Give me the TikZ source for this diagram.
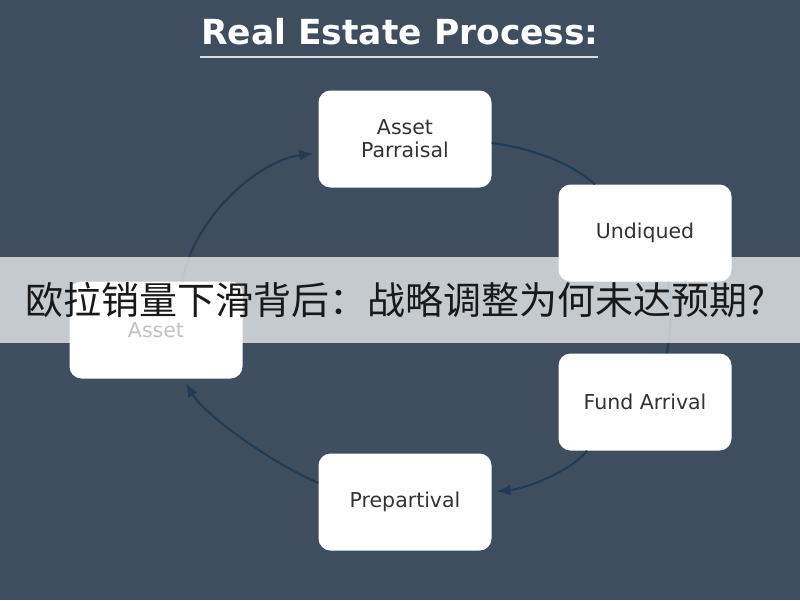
\documentclass[tikz,border=0pt]{standalone}
\usepackage{fontspec}
\setmainfont{DejaVu Sans}
\newfontfamily\cjkfont{Noto Sans CJK SC}
\usetikzlibrary{arrows.meta, calc}

\definecolor{slate}{HTML}{3E4E5F}
\definecolor{cycleblue}{HTML}{1F3B56}
\definecolor{boxtext}{HTML}{333333}

\begin{document}
\begin{tikzpicture}[x=1pt, y=-1pt,
every node/.style = {shape=rectangle, align=center},
stage/.style = {fill=white, rounded corners=12pt, minimum width=173pt, minimum height=97pt,
  text=boxtext, font=\fontsize{20.5}{23}\selectfont},
cycleline/.style = {draw=cycleblue, line width=2pt},
cyclearrow/.style = {cycleline, -{Latex[length=14pt,width=11pt]}, shorten >=5pt}]
%
\fill[slate] (0,0) rectangle (800,600);
\useasboundingbox (0,0) rectangle (800,600);

\node[text=white, font=\bfseries\fontsize{34.5}{34.5}\selectfont, anchor=base] (title) at (400,44) {Real Estate Process:};
\draw[white!80!slate, line width=2pt] (200,57) -- (598,57);

\node[stage] (appraisal) at (405,139) {Asset\\Parraisal};
\node[stage] (undiqued) at (645,233) {Undiqued};
\node[stage] (fund) at (645,402) {Fund Arrival};
\node[stage] (prep) at (405,502) {Prepartival};
\node[stage] (asset) at (156,330) {Asset};

\draw[cyclearrow] ($(asset.north)+(26,0)$) .. controls (195,215) and (260,160) .. ($(appraisal.west)+(0,14)$);
\draw[cycleline] ($(appraisal.east)+(0,4)$) .. controls (530,148) and (570,162) .. ($(undiqued.north)+(-50,0)$);
\draw[cycleline] ($(undiqued.south)+(23,0)$) .. controls (673,305) and (670,335) .. ($(fund.north)+(22,0)$);
\draw[cyclearrow] ($(fund.south)+(-58,0)$) .. controls (575,468) and (530,488) .. ($(prep.east)+(0,-10)$);
\draw[cyclearrow] ($(prep.west)+(0,-19)$) .. controls (270,462) and (205,415) .. ($(asset.south)+(27,0)$);

% overlay band
\fill[white, opacity=0.7] (0,257) rectangle (800,343);
\node[text=black!90, font=\cjkfont\fontsize{38}{38}\selectfont] (headline) at (396,300) {欧拉销量下滑背后：战略调整为何未达预期?};
\end{tikzpicture}
\end{document}
